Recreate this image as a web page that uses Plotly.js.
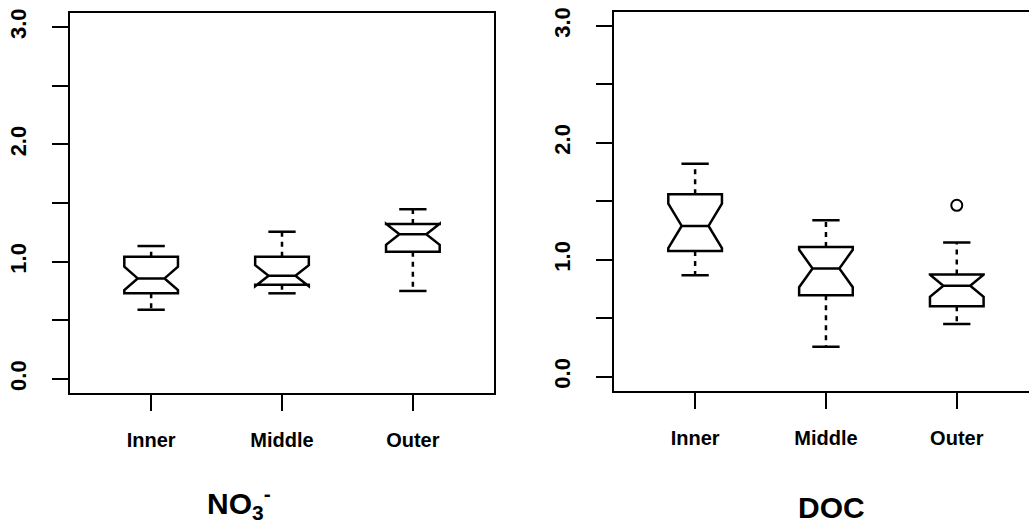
<!DOCTYPE html>
<html>
<head>
<meta charset="utf-8">
<script src="https://cdn.plot.ly/plotly-3.0.1.min.js"></script>
<style>
  html, body { margin: 0; padding: 0; background: #fff; }
  #vis { width: 1029px; height: 526px; }
</style>
</head>
<body>
<div id="vis"></div>
<script>
const categories = ['Inner', 'Middle', 'Outer']

// NO3- panel
const no3Lo = [0.59, 0.73, 0.75]
const no3Q1 = [0.73, 0.803, 1.085]
const no3Med = [0.857, 0.88, 1.233]
const no3Q3 = [1.042, 1.042, 1.321]
const no3Hi = [1.133, 1.255, 1.447]
const no3Notch = [0.10, 0.09, 0.09]

// DOC panel
const docLo = [0.868, 0.256, 0.45]
const docQ1 = [1.075, 0.697, 0.603]
const docMed = [1.289, 0.925, 0.777]
const docQ3 = [1.559, 1.109, 0.874]
const docHi = [1.821, 1.337, 1.147]
const docNotch = [0.19, 0.16, 0.094]
const docOutX = ['Outer']
const docOutY = [1.465]

const yTickVals = [0, 1, 2, 3]
const yTickText = ['0.0', '1.0', '2.0', '3.0']
const yMinorVals = [0.5, 1.5, 2.5]

const FONT = 'Liberation Sans, Arial, Helvetica, sans-serif'
const LW = 2.5

// notched box only, whiskers are drawn separately so they can be dashed
function boxTrace(q1, med, q3, notch, xa, ya) {
  return {
    type: 'box',
    x: categories,
    q1: q1, median: med, q3: q3,
    lowerfence: q1, upperfence: q3,
    notched: true, notchspan: notch, notchwidth: 0.25,
    whiskerwidth: 0,
    width: 0.41,
    boxpoints: false,
    fillcolor: 'rgba(255,255,255,0)',
    line: { color: '#000', width: LW },
    xaxis: xa, yaxis: ya,
    hoverinfo: 'skip'
  }
}

function whiskerTrace(lo, q1, q3, hi, xa, ya) {
  const xs = [], ys = []
  categories.forEach((c, i) => {
    xs.push(c, c, null, c, c, null)
    ys.push(q3[i], hi[i], null, q1[i], lo[i], null)
  })
  return {
    type: 'scatter', mode: 'lines',
    x: xs, y: ys,
    line: { color: '#000', width: LW, dash: '5px,5px' },
    xaxis: xa, yaxis: ya, hoverinfo: 'skip'
  }
}

function capTrace(lo, hi, xa, ya) {
  return {
    type: 'scatter', mode: 'markers',
    x: categories.concat(categories),
    y: hi.concat(lo),
    marker: { symbol: 'line-ew-open', size: 19.5, color: '#000', line: { color: '#000', width: LW } },
    xaxis: xa, yaxis: ya, hoverinfo: 'skip'
  }
}

const data = [
  whiskerTrace(no3Lo, no3Q1, no3Q3, no3Hi, 'x', 'y'),
  capTrace(no3Lo, no3Hi, 'x', 'y'),
  boxTrace(no3Q1, no3Med, no3Q3, no3Notch, 'x', 'y'),
  whiskerTrace(docLo, docQ1, docQ3, docHi, 'x2', 'y2'),
  capTrace(docLo, docHi, 'x2', 'y2'),
  boxTrace(docQ1, docMed, docQ3, docNotch, 'x2', 'y2'),
  {
    type: 'scatter', mode: 'markers',
    x: docOutX, y: docOutY,
    marker: { symbol: 'circle-open', size: 11, color: '#000', line: { color: '#000', width: 2 } },
    xaxis: 'x2', yaxis: 'y2', hoverinfo: 'skip'
  }
]

const xFont = { family: FONT, size: 20, weight: 'bold', color: '#000' }
const yFont = { family: FONT, size: 22, weight: 'bold', color: '#000' }

const xBase = {
  type: 'category',
  showline: true, linewidth: 2, linecolor: '#000', mirror: true,
  ticks: 'outside', ticklen: 16, tickwidth: 2, tickcolor: '#000',
  tickfont: xFont, ticklabelstandoff: 12,
  showgrid: false, zeroline: false, fixedrange: true
}
const yBase = {
  range: [-0.12, 3.12],
  tickmode: 'array', tickvals: yTickVals, ticktext: yTickText,
  minor: { tickmode: 'array', tickvals: yMinorVals, ticks: 'outside', ticklen: 16, tickwidth: 2, tickcolor: '#000', showgrid: false },
  tickangle: -90,
  showline: true, linewidth: 2, linecolor: '#000',
  ticks: 'outside', ticklen: 16, tickwidth: 2, tickcolor: '#000',
  tickfont: yFont, ticklabelstandoff: 17,
  showgrid: false, zeroline: false, fixedrange: true
}

const layout = {
  width: 1029, height: 526,
  margin: { l: 0, r: 0, t: 0, b: 0 },
  paper_bgcolor: '#fff', plot_bgcolor: '#fff',
  showlegend: false,
  xaxis: Object.assign({}, xBase, { domain: [70 / 1029, 494 / 1029], range: [-0.62, 2.62], anchor: 'y' }),
  yaxis: Object.assign({}, yBase, { domain: [1 - 393 / 526, 1 - 13 / 526], mirror: true, anchor: 'x' }),
  xaxis2: Object.assign({}, xBase, { domain: [614 / 1029, 1], range: [-0.62, 2.552], anchor: 'y2' }),
  yaxis2: Object.assign({}, yBase, { domain: [1 - 390.7 / 526, 1 - 11.7 / 526], mirror: false, anchor: 'x2' }),
  annotations: [
    {
      text: 'NO<sub>3</sub><sup>-</sup>', xref: 'paper', yref: 'paper',
      x: 239 / 1029, y: 0, xanchor: 'center', yanchor: 'bottom',
      showarrow: false, font: { family: FONT, size: 30, weight: 'bold', color: '#000' }
    },
    {
      text: 'DOC', xref: 'paper', yref: 'paper',
      x: 831 / 1029, y: 0, xanchor: 'center', yanchor: 'bottom',
      showarrow: false, font: { family: FONT, size: 30, weight: 'bold', color: '#000' }
    }
  ]
}

Plotly.newPlot('vis', data, layout, { staticPlot: true, displayModeBar: false })
</script>
</body>
</html>
